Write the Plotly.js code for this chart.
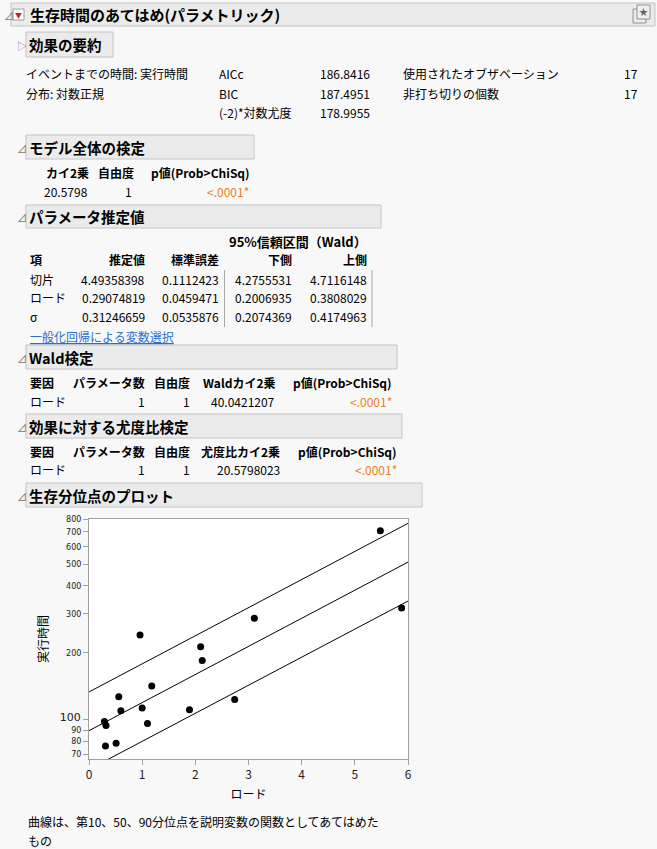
<!DOCTYPE html>
<html>
<head>
<meta charset="utf-8">
<script src="https://cdn.plot.ly/plotly-3.0.1.min.js"></script>
<style>
  html, body { margin: 0; padding: 0; background: #f8f8f8; }
</style>
</head>
<body>
<div id="report"></div>
<script>
// 生存時間のあてはめ 散布点 (ロード vs 実行時間)
var loadX   = [0.29, 0.32, 0.31, 0.51, 0.56, 0.60, 0.96, 1.00, 1.10, 1.18, 1.89, 2.10, 2.13, 2.74, 3.11, 5.48, 5.88];
var runTime = [98.3, 94.3, 76.3, 78.5, 127, 110, 241, 113, 96.3, 142, 111, 213, 185, 123.5, 286, 708, 318];

// 10, 50, 90 分位点の直線 (両端)
var lineX = [0, 6];
var q10 = [59.9, 342];
var q50 = [89.4, 512];
var q90 = [133.5, 765];

// 小さい目盛りと大きい「100」は別の軸で描く
var yTickVals = [70, 80, 90, 200, 300, 400, 500, 600, 700, 800];
var yTickText = ['70', '80', '90', '200', '300', '400', '500', '600', '700', '800'];
var yMainVals = [100];
var yMainText = ['100'];

// 表の値
var summaryLeft  = ['イベントまでの時間: 実行時間', '分布: 対数正規'];
var fitStatNames = ['AICc', 'BIC', '(-2)*対数尤度'];
var fitStatVals  = ['186.8416', '187.4951', '178.9955'];
var countNames   = ['使用されたオブザベーション', '非打ち切りの個数'];
var countVals    = ['17', '17'];

var paramTerms = ['切片', 'ロード', 'σ'];
var paramEst   = ['4.49358398', '0.29074819', '0.31246659'];
var paramSE    = ['0.1112423', '0.0459471', '0.0535876'];
var paramLo    = ['4.2755531', '0.2006935', '0.2074369'];
var paramHi    = ['4.7116148', '0.3808029', '0.4174963'];

var W = 657, H = 849;
var F = 'Noto Sans CJK JP, Noto Sans, sans-serif';
var TICKF = 'DejaVu Sans, sans-serif';
var ORANGE = '#ee7d1c';

function px(x) { return x / W; }
function py(y) { return 1 - y / H; }

// テキスト用の注釈
function T(x, y, text, o) {
    o = o || {};
    return {
        xref: 'paper', yref: 'paper', x: px(x), y: py(y),
        text: text, showarrow: false,
        xanchor: o.a || 'left', yanchor: 'middle',
        font: {family: F, size: o.s || 12, color: o.c || '#000'}
    };
}

function box(x0, y0, x1, y1, fill, line) {
    return {
        type: 'rect', xref: 'paper', yref: 'paper', layer: 'below',
        x0: px(x0), x1: px(x1), y0: py(y0), y1: py(y1),
        fillcolor: fill, line: {color: line, width: 1}
    };
}

function vline(x, y0, y1) {
    return {
        type: 'line', xref: 'paper', yref: 'paper',
        x0: px(x), x1: px(x), y0: py(y0), y1: py(y1),
        line: {color: '#a8a8a8', width: 1}
    };
}

var ann = [];
var shapes = [];

// メイン見出し
shapes.push(box(11, 3, 655, 26, '#ebebeb', '#c4c4c4'));
shapes.push(box(13, 9, 24, 20, '#ffffff', '#a0a0a0'));
shapes.push(box(633, 9, 646, 23, 'rgba(0,0,0,0)', '#909090'));
shapes.push(box(637, 5, 650, 19, '#f0f0f0', '#909090'));
ann.push(T(2, 15, '⊿', {s: 10, c: '#777'}));
ann.push(T(18.5, 14.5, '▼', {a: 'center', s: 7, c: '#d8161b'}));
ann.push(T(643.5, 12, '★', {a: 'center', s: 9, c: '#666'}));
ann.push(T(28, 14.5, '<b>生存時間のあてはめ(パラメトリック)</b>', {s: 15}));

// 効果の要約
shapes.push(box(26, 32, 113, 57, '#ebebeb', '#c4c4c4'));
ann.push(T(15, 45, '▷', {s: 10, c: '#777'}));
ann.push(T(27, 44.5, '<b>効果の要約</b>', {s: 14.5}));
for (var i = 0; i < summaryLeft.length; i++) {
    ann.push(T(24, 74 + i * 19, summaryLeft[i]));
}
for (var i = 0; i < fitStatNames.length; i++) {
    ann.push(T(217, 74 + i * 19, fitStatNames[i]));
    ann.push(T(372, 74 + i * 19, fitStatVals[i], {a: 'right'}));
}
for (var i = 0; i < countNames.length; i++) {
    ann.push(T(401, 74 + i * 19, countNames[i]));
    ann.push(T(640, 74 + i * 19, countVals[i], {a: 'right'}));
}

// モデル全体の検定
shapes.push(box(26, 135, 254, 159, '#ebebeb', '#c4c4c4'));
ann.push(T(15, 148, '⊿', {s: 10, c: '#777'}));
ann.push(T(27, 147, '<b>モデル全体の検定</b>', {s: 14.5}));
ann.push(T(91, 172, '<b>カイ2乗</b>', {a: 'right'}));
ann.push(T(136, 172, '<b>自由度</b>', {a: 'right'}));
ann.push(T(252, 172, '<b>p値(Prob>ChiSq)</b>', {a: 'right'}));
ann.push(T(90, 191, '20.5798', {a: 'right'}));
ann.push(T(134, 191, '1', {a: 'right'}));
ann.push(T(251, 191, '<.0001*', {a: 'right', c: ORANGE}));

// パラメータ推定値
shapes.push(box(26, 205, 381, 228, '#ebebeb', '#c4c4c4'));
ann.push(T(15, 217, '⊿', {s: 10, c: '#777'}));
ann.push(T(27, 216, '<b>パラメータ推定値</b>', {s: 14.5}));
ann.push(T(298, 241, '<b>95%信頼区間（Wald）</b>', {a: 'center', s: 13}));
ann.push(T(28, 260, '<b>項</b>'));
ann.push(T(147, 260, '<b>推定値</b>', {a: 'right'}));
ann.push(T(221, 260, '<b>標準誤差</b>', {a: 'right'}));
ann.push(T(294, 260, '<b>下側</b>', {a: 'right'}));
ann.push(T(369, 260, '<b>上側</b>', {a: 'right'}));
for (var i = 0; i < paramTerms.length; i++) {
    var yy = 279 + i * 18.7;
    ann.push(T(28, yy, paramTerms[i]));
    ann.push(T(147, yy, paramEst[i], {a: 'right'}));
    ann.push(T(221, yy, paramSE[i], {a: 'right'}));
    ann.push(T(294, yy, paramLo[i], {a: 'right'}));
    ann.push(T(369, yy, paramHi[i], {a: 'right'}));
}
shapes.push(vline(224.5, 270, 327));
shapes.push(vline(372, 270, 327));
ann.push(T(28, 337, '<u>一般化回帰による変数選択</u>', {c: '#2a6fcf'}));

// Wald検定
shapes.push(box(26, 345, 397, 369, '#ebebeb', '#c4c4c4'));
ann.push(T(15, 358, '⊿', {s: 10, c: '#777'}));
ann.push(T(27, 357, '<b>Wald検定</b>', {s: 14.5}));
ann.push(T(28, 382, '<b>要因</b>'));
ann.push(T(147, 382, '<b>パラメータ数</b>', {a: 'right'}));
ann.push(T(192, 382, '<b>自由度</b>', {a: 'right'}));
ann.push(T(277, 382, '<b>Waldカイ2乗</b>', {a: 'right'}));
ann.push(T(394, 382, '<b>p値(Prob>ChiSq)</b>', {a: 'right'}));
ann.push(T(28, 401, 'ロード'));
ann.push(T(147, 401, '1', {a: 'right'}));
ann.push(T(192, 401, '1', {a: 'right'}));
ann.push(T(277, 401, '40.0421207', {a: 'right'}));
ann.push(T(394, 401, '<.0001*', {a: 'right', c: ORANGE}));

// 効果に対する尤度比検定
shapes.push(box(26, 414, 402, 438, '#ebebeb', '#c4c4c4'));
ann.push(T(15, 427, '⊿', {s: 10, c: '#777'}));
ann.push(T(27, 426, '<b>効果に対する尤度比検定</b>', {s: 14.5}));
ann.push(T(28, 451, '<b>要因</b>'));
ann.push(T(147, 451, '<b>パラメータ数</b>', {a: 'right'}));
ann.push(T(192, 451, '<b>自由度</b>', {a: 'right'}));
ann.push(T(282, 451, '<b>尤度比カイ2乗</b>', {a: 'right'}));
ann.push(T(399, 451, '<b>p値(Prob>ChiSq)</b>', {a: 'right'}));
ann.push(T(28, 469, 'ロード'));
ann.push(T(147, 469, '1', {a: 'right'}));
ann.push(T(192, 469, '1', {a: 'right'}));
ann.push(T(282, 469, '20.5798023', {a: 'right'}));
ann.push(T(399, 469, '<.0001*', {a: 'right', c: ORANGE}));

// 生存分位点のプロット
shapes.push(box(26, 483, 422, 507, '#ebebeb', '#c4c4c4'));
ann.push(T(15, 496, '⊿', {s: 10, c: '#777'}));
ann.push(T(27, 495, '<b>生存分位点のプロット</b>', {s: 14.5}));

ann.push(T(26, 821, '曲線は、第10、50、90分位点を説明変数の関数としてあてはめた'));
ann.push(T(26, 840, 'もの'));

var lineStyle = {color: '#000', width: 1};
var data = [
    {x: lineX, y: q90, mode: 'lines', type: 'scatter', line: lineStyle, hoverinfo: 'skip'},
    // 中央値の線は「100」の軸 (同じ目盛り) に載せて、その軸を描かせる
    {x: lineX, y: q50, mode: 'lines', type: 'scatter', line: lineStyle, hoverinfo: 'skip', yaxis: 'y2'},
    {x: lineX, y: q10, mode: 'lines', type: 'scatter', line: lineStyle, hoverinfo: 'skip'},
    {x: loadX, y: runTime, mode: 'markers', type: 'scatter', marker: {color: '#000', size: 7}}
];

var yRange = [Math.log10(66.7), Math.log10(800)];

var layout = {
    width: W, height: H,
    margin: {l: 0, r: 0, t: 0, b: 0},
    paper_bgcolor: '#f8f8f8',
    plot_bgcolor: '#ffffff',
    showlegend: false,
    font: {family: F, color: '#000'},
    xaxis: {
        domain: [px(89), px(408)],
        range: [0, 6], dtick: 1,
        ticks: 'outside', ticklen: 5, tickcolor: '#a0a0a0',
        showline: true, linecolor: '#a0a0a0', mirror: true,
        showgrid: false, zeroline: false,
        tickfont: {family: F, size: 12, color: '#222'},
        title: {text: 'ロード', font: {family: F, size: 12}, standoff: 9}
    },
    yaxis: {
        domain: [py(759), py(519)],
        type: 'log', range: yRange,
        tickvals: yTickVals, ticktext: yTickText,
        ticks: 'outside', ticklen: 5, tickcolor: '#a0a0a0',
        showline: true, linecolor: '#a0a0a0', mirror: true,
        showgrid: false, zeroline: false,
        tickfont: {family: TICKF, size: 8, color: '#222'},
        title: {text: '実行時間', font: {family: F, size: 12}, standoff: 14}
    },
    yaxis2: {
        overlaying: 'y', side: 'left',
        type: 'log', range: yRange,
        tickvals: yMainVals, ticktext: yMainText,
        ticks: 'outside', ticklen: 5, tickcolor: '#a0a0a0',
        ticklabelshift: -3,
        showline: false, showgrid: false, zeroline: false,
        tickfont: {family: TICKF, size: 11, color: '#222'}
    },
    annotations: ann,
    shapes: shapes
};

Plotly.newPlot('report', data, layout, {staticPlot: true});
</script>
</body>
</html>
